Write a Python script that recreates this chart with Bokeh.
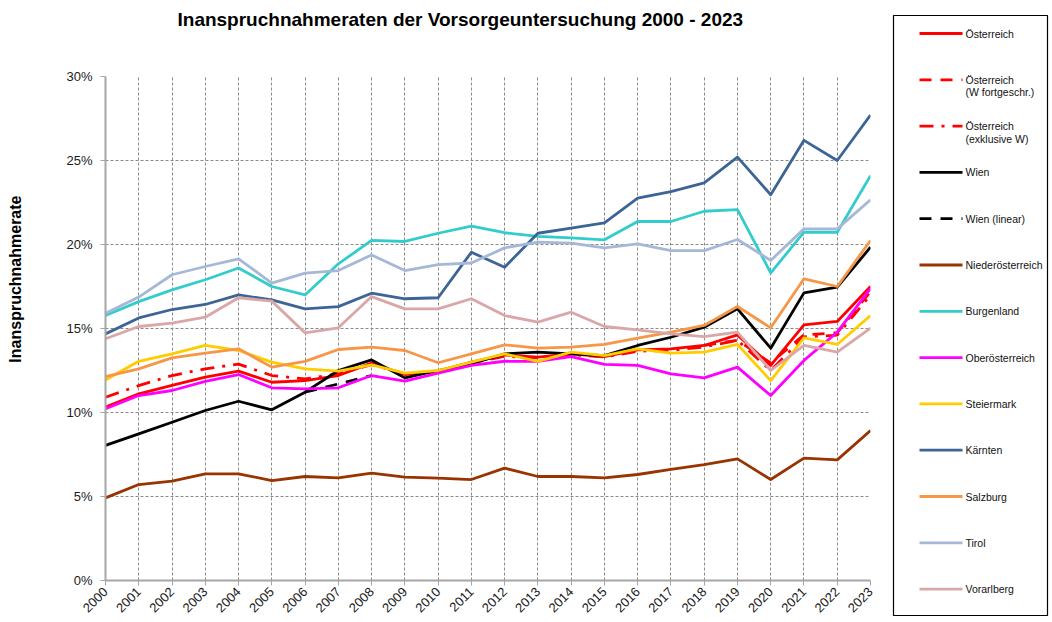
import math
from bokeh.plotting import figure
from bokeh.models import Range1d, FixedTicker, PrintfTickFormatter, Title
from bokeh.layouts import row, column
from bokeh.embed import file_html
from bokeh.resources import INLINE
from bokeh.core.properties import value

# ---------------- data (percent) ----------------
years = list(range(2000, 2024))
year_labels = [str(y) for y in years]

oesterreich = [10.32, 11.11, 11.61, 12.10, 12.46, 11.80, 11.90, 12.20, 12.94, 12.26, 12.46, 13.00,
               13.43, 13.29, 13.49, 13.33, 13.73, 13.79, 13.99, 14.62, 12.80, 15.22, 15.42, 17.50]
years_w_fortgeschr = [2018, 2019, 2020, 2021, 2022, 2023]
oesterreich_w_fortgeschr = [13.99, 14.30, 12.95, 14.62, 14.75, 17.20]
oesterreich_exkl_w = [10.91, 11.60, 12.20, 12.60, 12.88, 12.20, 12.00, 12.30, 12.85, 12.30, 12.45, 12.95,
                      13.35, 13.25, 13.45, 13.30, 13.65, 13.70, 13.90, 14.30, 12.50, 14.50, 14.60, 17.00]
wien = [8.04, 8.73, 9.42, 10.12, 10.67, 10.16, 11.21, 12.50, 13.13, 12.06, 12.50, 12.90,
        13.49, 13.59, 13.49, 13.39, 13.99, 14.48, 15.08, 16.17, 13.83, 17.12, 17.46, 19.84]
years_wien_linear = [2006, 2007, 2008]
wien_linear = [11.21, 11.70, 12.20]
niederoesterreich = [4.92, 5.71, 5.91, 6.35, 6.35, 5.95, 6.19, 6.11, 6.39, 6.15, 6.09, 6.01,
                     6.69, 6.19, 6.19, 6.11, 6.31, 6.61, 6.90, 7.24, 6.01, 7.28, 7.18, 8.93]
burgenland = [15.77, 16.60, 17.30, 17.90, 18.60, 17.50, 17.00, 18.85, 20.24, 20.18, 20.67, 21.10,
              20.70, 20.48, 20.40, 20.28, 21.37, 21.37, 21.98, 22.08, 18.31, 20.73, 20.73, 24.10]
oberoesterreich = [10.22, 11.01, 11.31, 11.85, 12.26, 11.47, 11.41, 11.47, 12.20, 11.87, 12.34, 12.80,
                   13.05, 13.04, 13.33, 12.86, 12.80, 12.30, 12.06, 12.70, 11.01, 13.10, 14.78, 17.38]
steiermark = [11.94, 13.05, 13.49, 13.99, 13.69, 13.00, 12.60, 12.46, 12.84, 12.34, 12.50, 13.00,
              13.49, 13.04, 13.59, 13.39, 13.79, 13.53, 13.59, 14.05, 11.90, 14.44, 14.05, 15.77]
kaernten = [14.68, 15.63, 16.13, 16.43, 17.00, 16.70, 16.17, 16.30, 17.10, 16.77, 16.83, 19.54,
            18.65, 20.67, 20.97, 21.29, 22.76, 23.15, 23.67, 25.20, 22.96, 26.20, 25.00, 27.70]
salzburg = [12.14, 12.60, 13.25, 13.53, 13.79, 12.70, 13.04, 13.75, 13.89, 13.69, 12.96, 13.49,
            14.03, 13.83, 13.89, 14.05, 14.42, 14.78, 15.18, 16.31, 15.04, 17.96, 17.50, 20.24]
tirol = [15.90, 16.87, 18.20, 18.69, 19.15, 17.70, 18.30, 18.45, 19.38, 18.45, 18.80, 18.90,
         19.80, 20.14, 20.08, 19.80, 20.04, 19.64, 19.64, 20.30, 19.05, 20.93, 20.93, 22.66]
vorarlberg = [14.39, 15.12, 15.32, 15.67, 16.83, 16.63, 14.74, 15.04, 16.90, 16.17, 16.17, 16.77,
              15.77, 15.38, 15.97, 15.12, 14.92, 14.68, 14.52, 14.78, 12.50, 13.99, 13.59, 15.02]

y_ticks = [0, 5, 10, 15, 20, 25, 30]

title_text = "Inanspruchnahmeraten der Vorsorgeuntersuchung 2000 - 2023"
y_label_text = "Inanspruchnahmerate"

# (label lines, x, y, color, dash)
series = [
    (["Österreich"], years, oesterreich, "#FF0000", "solid"),
    (["Österreich", "(W fortgeschr.)"], years_w_fortgeschr, oesterreich_w_fortgeschr, "#FF0000", "12 9"),
    (["Österreich", "(exklusive W)"], years, oesterreich_exkl_w, "#FF0000", "14 8 3 8"),
    (["Wien"], years, wien, "#000000", "solid"),
    (["Wien (linear)"], years_wien_linear, wien_linear, "#000000", "12 9"),
    (["Niederösterreich"], years, niederoesterreich, "#993300", "solid"),
    (["Burgenland"], years, burgenland, "#33CCCC", "solid"),
    (["Oberösterreich"], years, oberoesterreich, "#FF00FF", "solid"),
    (["Steiermark"], years, steiermark, "#FFCC00", "solid"),
    (["Kärnten"], years, kaernten, "#3C6496", "solid"),
    (["Salzburg"], years, salzburg, "#F79646", "solid"),
    (["Tirol"], years, tirol, "#A6B8D8", "solid"),
    (["Vorarlberg"], years, vorarlberg, "#D9A7A7", "solid"),
]

FONT = "Liberation Sans"
H = 622
LW = 2.8
MAIN_W = 885

# ---------------- main chart ----------------
p = figure(width=MAIN_W, height=H, output_backend="svg", toolbar_location=None,
           x_range=Range1d(2000, 2023), y_range=Range1d(0, 30),
           min_border_left=105, min_border_right=15, min_border_top=76, min_border_bottom=42)
p.outline_line_color = None
p.background_fill_color = "white"
p.title = None

# spacer (closest to frame) then the real title
p.add_layout(Title(text=" ", text_font_size="1px", standoff=44), "above")
p.add_layout(Title(text=title_text, align="left", offset=72, standoff=0,
                   text_font=FONT, text_font_size="19px", text_font_style="bold",
                   text_color="#000000"), "above")

for lab, xs, ys, col, dash in series:
    p.line(xs, ys, line_color=col, line_width=LW, line_dash=dash, line_join="round")

p.xaxis.ticker = FixedTicker(ticks=years)
p.xaxis.major_label_overrides = {y: s for y, s in zip(years, year_labels)}
p.xaxis.major_label_orientation = math.pi / 4
p.yaxis.ticker = FixedTicker(ticks=y_ticks)
p.yaxis.formatter = PrintfTickFormatter(format="%d%%")
p.xgrid.ticker = FixedTicker(ticks=years)
p.ygrid.ticker = FixedTicker(ticks=y_ticks)
for g in (p.xgrid, p.ygrid):
    g.grid_line_color = "#8a8a8a"
    g.grid_line_dash = "3 2"
    g.grid_line_width = 1
for ax in (p.xaxis, p.yaxis):
    ax.axis_line_color = "#a6a6a6"
    ax.axis_line_width = 2
    ax.major_tick_line_color = "#a6a6a6"
    ax.major_tick_out = 5
    ax.major_tick_in = 0
    ax.minor_tick_line_color = None
    ax.major_label_text_font = FONT
    ax.major_label_text_font_size = "13px"
    ax.major_label_text_color = "#1a1a1a"
p.xaxis.major_label_standoff = 4
p.yaxis.major_label_standoff = 8

p.add_layout(Title(text=" ", text_font_size="1px", standoff=37), "left")
p.add_layout(Title(text=y_label_text, align="right", offset=119, standoff=0,
                   text_font=FONT, text_font_size="16px", text_font_style="bold",
                   text_color="#000000"), "left")

# ---------------- legend panel ----------------
LWID = 1052 - MAIN_W
FW = LWID - 8 - 5
FH = H - 15 - 7
leg = figure(width=LWID, height=H, output_backend="svg", toolbar_location=None,
             x_range=Range1d(0, FW), y_range=Range1d(FH, 0),
             min_border_left=8, min_border_right=5, min_border_top=15, min_border_bottom=7)
leg.title = None
leg.axis.visible = False
leg.grid.visible = False
leg.outline_line_color = "#000000"
leg.outline_line_width = 1.2

for i, (lab, xs, ys, col, dash) in enumerate(series):
    yy = 18 + i * 46.3
    leg.line([26, 69], [yy, yy], line_color=col, line_width=LW, line_dash=dash)
    for j, t in enumerate(lab):
        leg.text([72], [yy + j * 12.5], text=[t], text_font=value(FONT), text_font_size="10.5px",
                 text_baseline="middle", text_align="left", text_color="#111111")

layout = row(p, column(leg))
open("out.html", "w").write(file_html(layout, INLINE))
